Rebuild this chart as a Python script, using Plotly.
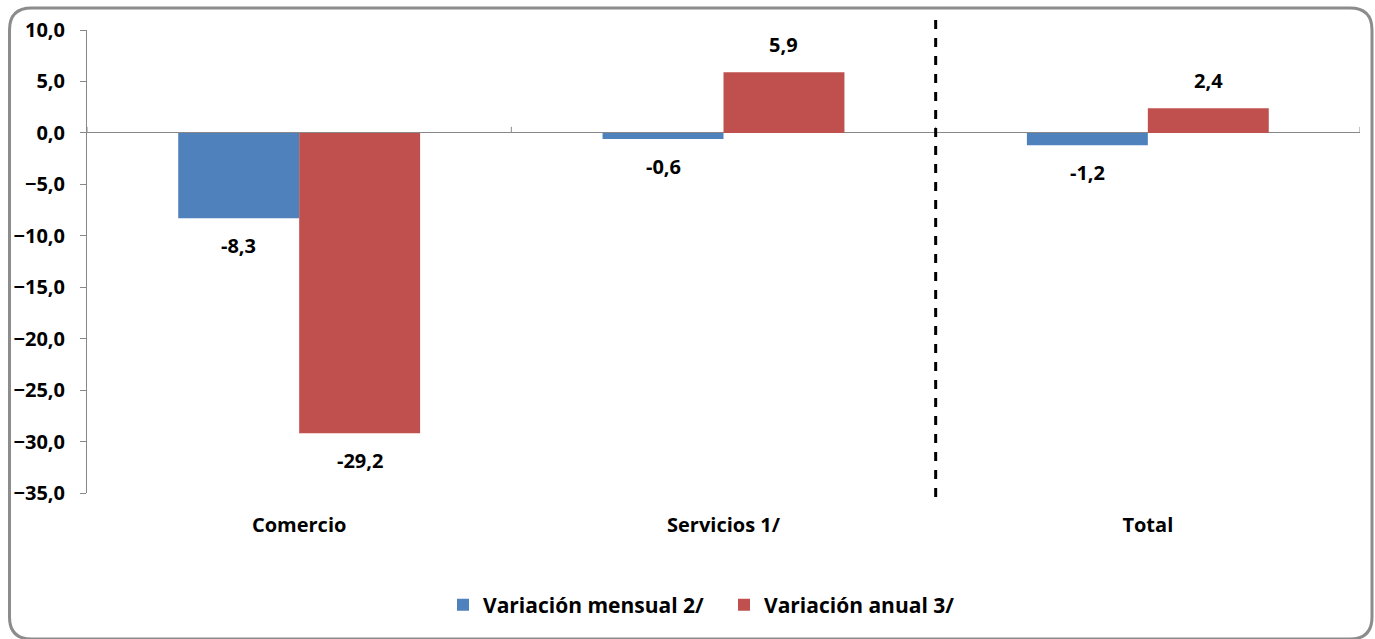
import plotly.graph_objects as go

categories = ["Comercio", "Servicios 1/", "Total"]
mensual = [-8.3, -0.6, -1.2]
anual = [-29.2, 5.9, 2.4]
series_names = ["Variación mensual 2/", "Variación anual 3/"]
y_ticks = [10, 5, 0, -5, -10, -15, -20, -25, -30, -35]

W, H = 1375, 639
ML, MR, MT, MB = 87, 15, 30, 146
PW, PH = W - ML - MR, H - MT - MB

FONT = "'Open Sans', Lato, sans-serif"
FS = 20
BLUE = "#4f81bd"
RED = "#c0504d"

def fx(px):
    return (px - ML) / PW

def fy(py):
    return (H - MB - py) / PH

def fmt(v):
    return f"{v:.1f}".replace(".", ",")

xs = list(range(len(categories)))
fig = go.Figure()
fig.add_trace(go.Bar(x=xs, y=mensual, name=series_names[0], marker_color=BLUE,
                     marker_line_width=0))
fig.add_trace(go.Bar(x=xs, y=anual, name=series_names[1], marker_color=RED,
                     marker_line_width=0))

bargap = 0.43
half = (1 - bargap) / 4
annotations = []
for vals, off in ((mensual, -half), (anual, half)):
    for i, v in enumerate(vals):
        annotations.append(dict(
            x=i + off, y=v, xref="x", yref="y", text=fmt(v), showarrow=False,
            yanchor="middle", yshift=28 if v > 0 else -27,
            font=dict(family=FONT, size=FS, color="#000000", weight="bold")))

shapes = []
for b in [-0.5, 0.5, 1.5, 2.5]:
    shapes.append(dict(type="line", xref="x", yref="y", ysizemode="pixel", yanchor=0,
                       x0=b, x1=b, y0=0, y1=6, line=dict(color="#888888", width=1)))
shapes.append(dict(type="line", xref="x", yref="paper", x0=1.5, x1=1.5,
                   y0=fy(497), y1=fy(20), line=dict(color="#000000", width=3, dash="dash")))
l, t, r, b, rad = 9.5, 8, 1372, 639, 22
path = (f"M {fx(l)},{fy(t+rad)} Q {fx(l)},{fy(t)} {fx(l+rad)},{fy(t)} "
        f"L {fx(r-rad)},{fy(t)} Q {fx(r)},{fy(t)} {fx(r)},{fy(t+rad)} "
        f"L {fx(r)},{fy(b-rad)} Q {fx(r)},{fy(b)} {fx(r-rad)},{fy(b)} "
        f"L {fx(l+rad)},{fy(b)} Q {fx(l)},{fy(b)} {fx(l)},{fy(b-rad)} Z")
shapes.append(dict(type="path", xref="paper", yref="paper", path=path,
                   line=dict(color="#8c8c8c", width=3), layer="below"))

fig.update_layout(
    width=W, height=H,
    margin=dict(l=ML, r=MR, t=MT, b=MB),
    paper_bgcolor="white", plot_bgcolor="white",
    separators=",.",
    barmode="group", bargap=bargap, bargroupgap=0,
    font=dict(family=FONT, size=FS, color="#000000"),
    showlegend=True,
    legend=dict(orientation="h", x=fx(724), xanchor="center", y=fy(605), yanchor="middle",
                font=dict(family=FONT, size=21, color="#000000", weight="bold"),
                itemwidth=30, tracegroupgap=0, entrywidth=236, entrywidthmode="pixels"),
    xaxis=dict(tickmode="array", tickvals=xs, ticktext=categories,
               range=[-0.5, 2.5], showgrid=False, zeroline=False, showline=False,
               ticks="", ticklabelstandoff=18,
               tickfont=dict(family=FONT, size=FS, color="#000000", weight="bold")),
    yaxis=dict(range=[-35, 10], tickmode="array", tickvals=y_ticks, tickformat=".1f",
               showgrid=False, zeroline=True, zerolinecolor="#888888", zerolinewidth=1,
               showline=True, linecolor="#888888", linewidth=1,
               ticks="outside", ticklen=6, tickcolor="#888888", ticklabelstandoff=11,
               tickfont=dict(family=FONT, size=FS, color="#000000", weight="bold")),
    annotations=annotations,
    shapes=shapes,
)

fig.write_html("out.html", config={"displayModeBar": False},
               post_script="document.body.style.margin='0';document.body.style.overflow='hidden';")
